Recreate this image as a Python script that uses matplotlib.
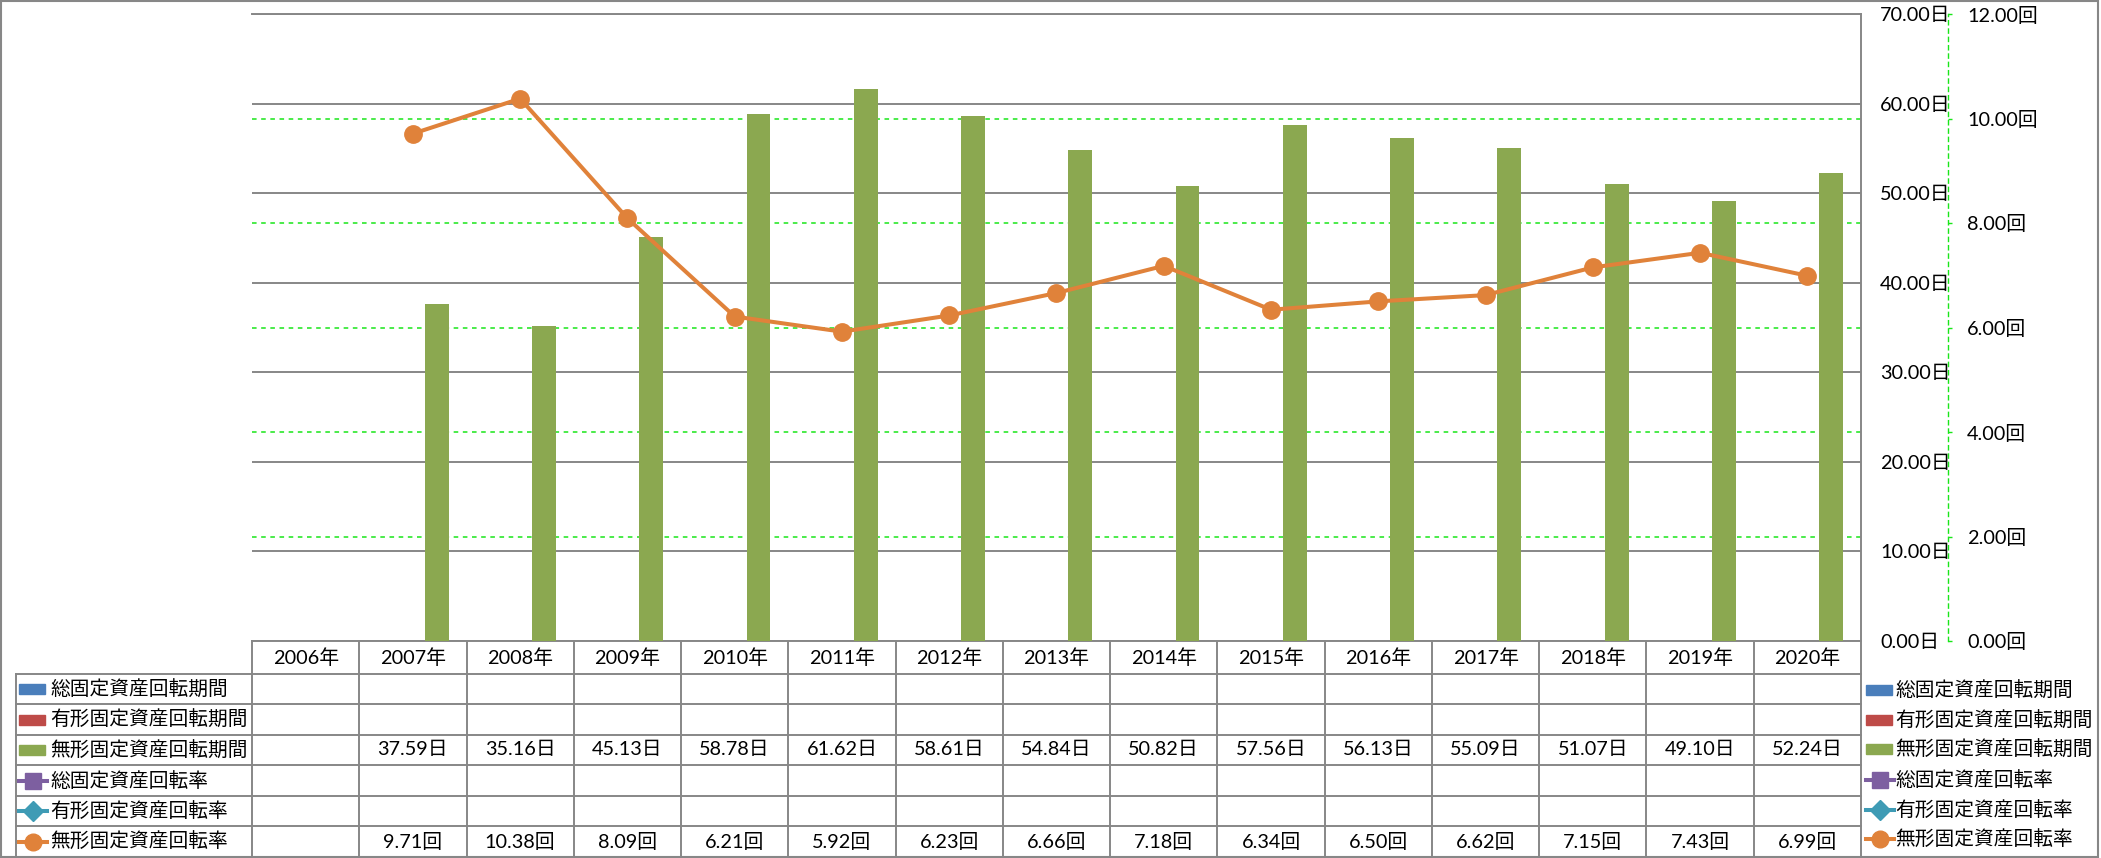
import matplotlib
matplotlib.use("Agg")
import matplotlib.pyplot as plt
import numpy as np
from matplotlib.lines import Line2D
from matplotlib.patches import Rectangle
from matplotlib.ticker import FuncFormatter, MultipleLocator
from matplotlib.transforms import blended_transform_factory

plt.rcParams['font.family'] = ['Lato', 'Noto Sans CJK JP', 'DejaVu Sans']

years = ['2006年', '2007年', '2008年', '2009年', '2010年', '2011年', '2012年', '2013年',
         '2014年', '2015年', '2016年', '2017年', '2018年', '2019年', '2020年']
series_names = ['総固定資産回転期間', '有形固定資産回転期間', '無形固定資産回転期間',
                '総固定資産回転率', '有形固定資産回転率', '無形固定資産回転率']
# 無形固定資産回転期間 (日) / 無形固定資産回転率 (回), 2006 has no value
intangible_days = [np.nan, 37.59, 35.16, 45.13, 58.78, 61.62, 58.61, 54.84,
                   50.82, 57.56, 56.13, 55.09, 51.07, 49.10, 52.24]
intangible_rate = [np.nan, 9.71, 10.38, 8.09, 6.21, 5.92, 6.23, 6.66,
                   7.18, 6.34, 6.50, 6.62, 7.15, 7.43, 6.99]

# colours of the six series
colors = ['#4A7EBB', '#BE4B48', '#8BA850', '#7D5FA0', '#3E9BB5', '#E0823A']
markers = [None, None, None, 's', 'D', 'o']
grid_gray = '#878787'
lime = '#19E619'
num_size = 14.3

W, H = 2101, 858
PT = 72 / 100  # points per pixel
def fx(px):
    return px / W
def fy(py):
    return 1 - py / H

fig = plt.figure(figsize=(W / 100, H / 100), dpi=100)
ax = fig.add_axes([fx(252), fy(641), fx(1861) - fx(252), fy(14) - fy(641)])
ax2 = ax.twinx()

x = np.arange(len(years))
bw = 0.222

# bars (only the intangible series has data)
ax.bar(x + bw, intangible_days, width=bw, color=colors[2], zorder=3)
ax.set_xlim(-0.5, len(years) - 0.5)
ax.set_ylim(0, 70)
ax.yaxis.set_major_locator(MultipleLocator(10))
ax.yaxis.tick_right()
ax.yaxis.set_major_formatter(FuncFormatter(lambda v, p: f'{v:.2f}日'))
ax.tick_params(axis='y', length=0, pad=19 * PT, labelsize=num_size)
ax.set_xticks([])
ax.grid(axis='y', color=grid_gray, lw=1.4, zorder=1)
ax.set_axisbelow(True)
ax.spines['left'].set_visible(False)
for s in ['top', 'right', 'bottom']:
    ax.spines[s].set_color(grid_gray)
    ax.spines[s].set_linewidth(1.4)

# secondary axis: line
ax2.plot(x, intangible_rate, color=colors[5], lw=2.9, marker='o', ms=12.5, zorder=4)
ax2.set_ylim(0, 12)
ax2.yaxis.set_major_locator(MultipleLocator(2))
ax2.yaxis.set_major_formatter(FuncFormatter(lambda v, p: f'{v:.2f}回'))
for s in ['left', 'top', 'bottom']:
    ax2.spines[s].set_visible(False)
ax2.spines['right'].set_position(('outward', 87 * PT))
ax2.spines['right'].set_color(lime)
ax2.spines['right'].set_linestyle((0, (3, 3)))
ax2.spines['right'].set_linewidth(1.0)
ax2.tick_params(axis='y', length=4 * PT, width=1, color=lime, pad=15 * PT,
                labelsize=num_size)

# secondary gridlines drawn behind the bars
gtr = blended_transform_factory(ax.transAxes, ax2.transData)
for t in [2, 4, 6, 8, 10]:
    ax.plot([0, 1], [t, t], transform=gtr, color=lime, lw=1.1,
            ls=(0, (3, 3)), zorder=2)

# data table under the plot
tab = blended_transform_factory(ax.transData, fig.transFigure)
row_lines = [674, 704, 735, 765, 796, 826, 857]
row_mid = [(a + b) / 2 for a, b in zip(row_lines[:-1], row_lines[1:])]
tcol = grid_gray
for k in range(len(years) + 1):
    fig.add_artist(Line2D([k - 0.5, k - 0.5], [fy(641), fy(857)], transform=tab,
                          color=tcol, lw=1.4))
fig.add_artist(Line2D([fx(16), fx(16)], [fy(674), fy(857)], color=tcol, lw=1.4))
for py in row_lines:
    fig.add_artist(Line2D([fx(16), fx(1861)], [fy(py), fy(py)], color=tcol, lw=1.4))

for i, yl in enumerate(years):
    ax.text(i, fy(657.5), yl, transform=tab, ha='center', va='center', size=num_size)
    if not np.isnan(intangible_days[i]):
        ax.text(i, fy(row_mid[2]), f'{intangible_days[i]:.2f}日', transform=tab,
                ha='center', va='center', size=num_size)
    if not np.isnan(intangible_rate[i]):
        ax.text(i, fy(row_mid[5]), f'{intangible_rate[i]:.2f}回', transform=tab,
                ha='center', va='center', size=num_size)

def legend_key(x0, py, j):
    if markers[j] is None:
        fig.add_artist(Rectangle((fx(x0), fy(py + 5)), fx(26), 10 / H,
                                 color=colors[j], transform=fig.transFigure))
    else:
        fig.add_artist(Line2D([fx(x0), fx(x0 + 28)], [fy(py), fy(py)],
                              color=colors[j], lw=2.9))
        fig.add_artist(Line2D([fx(x0 + 14)], [fy(py)], color=colors[j],
                              marker=markers[j], ms=12 if markers[j] != 'D' else 10,
                              lw=0))

# row labels of the table
for j, name in enumerate(series_names):
    legend_key(19, row_mid[j], j)
    fig.text(fx(50), fy(row_mid[j]), name, ha='left', va='center', size=14.2)

# legend on the right
leg_y = [690, 720, 749, 780, 810, 839]
for j, name in enumerate(series_names):
    legend_key(1866, leg_y[j], j)
    fig.text(fx(1895), fy(leg_y[j]), name, ha='left', va='center', size=14.2)

# outer frame
fig.add_artist(Rectangle((fx(1), fy(857)), fx(2098) - fx(1), fy(1) - fy(857),
                         fill=False, edgecolor=grid_gray, lw=1.5,
                         transform=fig.transFigure))

fig.savefig('out.png', dpi=100)
